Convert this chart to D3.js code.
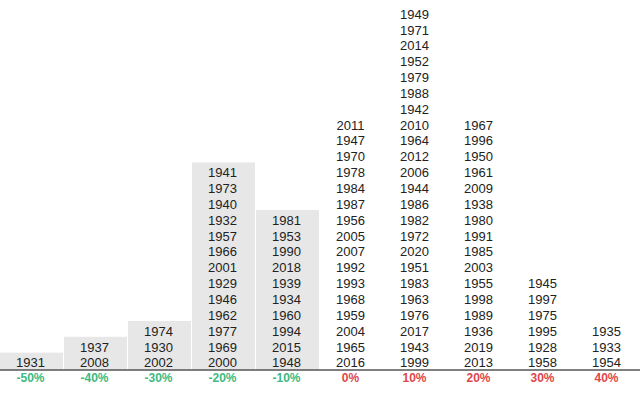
<!DOCTYPE html>
<html>
<head>
<meta charset="utf-8">
<script src="https://cdn.jsdelivr.net/npm/d3@7"></script>
<style>
  html, body { margin: 0; padding: 0; background: #fff; }
  svg { display: block; }
</style>
</head>
<body>
<svg id="chart" width="640" height="396"></svg>
<script>
// Return buckets (tick labels)
const buckets = ["-50%", "-40%", "-30%", "-20%", "-10%", "0%", "10%", "20%", "30%", "40%"];
const bucketValues = [-50, -40, -30, -20, -10, 0, 10, 20, 30, 40];

// Years in each bucket, listed from bottom to top
const yearsM50 = [1931];
const yearsM40 = [2008, 1937];
const yearsM30 = [2002, 1930, 1974];
const yearsM20 = [2000, 1969, 1977, 1962, 1946, 1929, 2001, 1966, 1957, 1932, 1940, 1973, 1941];
const yearsM10 = [1948, 2015, 1994, 1960, 1934, 1939, 2018, 1990, 1953, 1981];
const years0   = [2016, 1965, 2004, 1959, 1968, 1993, 1992, 2007, 2005, 1956, 1987, 1984, 1978, 1970, 1947, 2011];
const years10  = [1999, 1943, 2017, 1976, 1963, 1983, 1951, 2020, 1972, 1982, 1986, 1944, 2006, 2012, 1964, 2010, 1942, 1988, 1979, 1952, 2014, 1971, 1949];
const years20  = [2013, 2019, 1936, 1989, 1998, 1955, 2003, 1985, 1991, 1980, 1938, 2009, 1961, 1950, 1996, 1967];
const years30  = [1958, 1928, 1995, 1975, 1997, 1945];
const years40  = [1954, 1933, 1935];

const columns = [yearsM50, yearsM40, yearsM30, yearsM20, yearsM10, years0, years10, years20, years30, years40];

const svg = d3.select("#chart");
const baseline = 370;
const rowH = 15.85;
const maxRows = d3.max(columns, c => c.length);

const x = d3.scaleBand().domain(buckets).range([0, 640]).padding(0);
const y = d3.scaleLinear().domain([0, maxRows]).range([baseline, baseline - maxRows * rowH]);

const data = buckets.map((b, i) => ({ bucket: b, value: bucketValues[i], years: columns[i] }));

// Grey background for negative buckets
svg.append("g").selectAll("rect")
  .data(data.filter(d => d.value < 0))
  .join("rect")
  .attr("x", d => x(d.bucket))
  .attr("width", x.bandwidth() - 1)
  .attr("y", d => y(d.years.length) - 1.5)
  .attr("height", d => baseline - y(d.years.length) + 1.5)
  .attr("fill", "#e7e7e7");

// Year labels
const cols = svg.append("g").selectAll("g")
  .data(data)
  .join("g")
  .attr("transform", d => `translate(${x(d.bucket) + x.bandwidth() / 2 - 1.5},0)`);

cols.selectAll("text")
  .data(d => d.years.map((yr, i) => ({ yr, i })))
  .join("text")
  .attr("x", 0)
  .attr("y", d => (y(d.i) + y(d.i + 1)) / 2 + 0.6)
  .attr("dy", "0.36em")
  .attr("text-anchor", "middle")
  .attr("font-family", "Arial, 'Liberation Sans', sans-serif")
  .attr("font-size", 13)
  .attr("fill", "#222")
  .text(d => d.yr);

// Axis
const axis = svg.append("g")
  .attr("transform", `translate(0,${baseline})`)
  .call(d3.axisBottom(x).tickSize(0).tickPadding(3));
axis.select(".domain").attr("stroke", "#555").attr("stroke-width", 1.5).attr("d", "M0,0H640");
axis.selectAll(".tick text")
  .attr("font-family", "Arial, 'Liberation Sans', sans-serif")
  .attr("font-size", 12)
  .attr("font-weight", "bold")
  .attr("dx", -1.5)
  .attr("fill", (d, i) => bucketValues[i] < 0 ? "#3dba82" : "#e0474a");
</script>
</body>
</html>
